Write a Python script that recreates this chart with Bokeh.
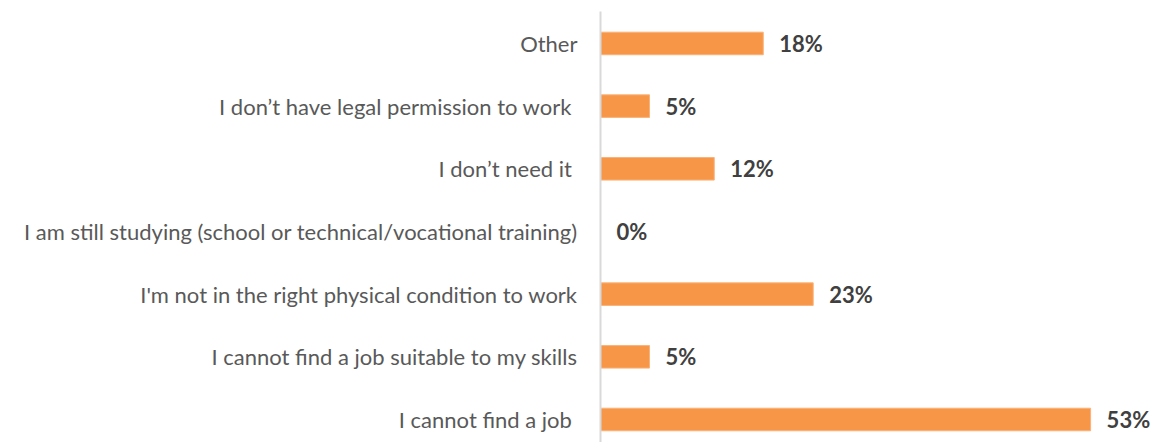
from bokeh.plotting import figure
from bokeh.models import ColumnDataSource, Range1d, FixedTicker
from bokeh.core.properties import value
from bokeh.embed import file_html
from bokeh.resources import INLINE

categories = [
    "I cannot find a job ",
    "I cannot find a job suitable to my skills",
    "I'm not in the right physical condition to work",
    "I am still studying (school or technical/vocational training)",
    "I don\u2019t need it ",
    "I don\u2019t have legal permission to work ",
    "Other",
]
values = [53.0, 5.3, 23.0, 0.0, 12.3, 5.3, 17.6]
labels = ["53%", "5%", "23%", "0%", "12%", "5%", "18%"]

FONT = "Lato"
pos = list(range(len(categories)))
src = ColumnDataSource(dict(y=pos, v=values, lab=labels))

p = figure(width=1153, height=442, output_backend="svg", toolbar_location=None,
           x_range=Range1d(0, 59.8), y_range=Range1d(-0.367, 6.51),
           min_border_left=600, min_border_right=0, min_border_top=11, min_border_bottom=0)

p.hbar(y="y", right="v", left=0, height=0.36, source=src,
       fill_color="#F79646", line_color="#FAB27A", line_width=1)
p.text(x="v", y="y", text="lab", source=src, x_offset=16,
       text_font=value(FONT), text_font_style="bold", text_font_size="22px",
       text_color="#404040", text_align="left", text_baseline="middle")

p.xaxis.visible = False
p.xgrid.visible = False
p.ygrid.visible = False
p.outline_line_color = None

ya = p.yaxis[0]
ya.ticker = FixedTicker(ticks=pos)
ya.major_label_overrides = {i: c for i, c in enumerate(categories)}
ya.axis_line_color = "#D9D9D9"
ya.axis_line_width = 2
ya.major_tick_line_color = None
ya.minor_tick_line_color = None
ya.major_label_standoff = 17
ya.major_label_text_font = FONT
ya.major_label_text_font_size = "22px"
ya.major_label_text_color = "#595959"

open("out.html", "w").write(file_html(p, INLINE))
